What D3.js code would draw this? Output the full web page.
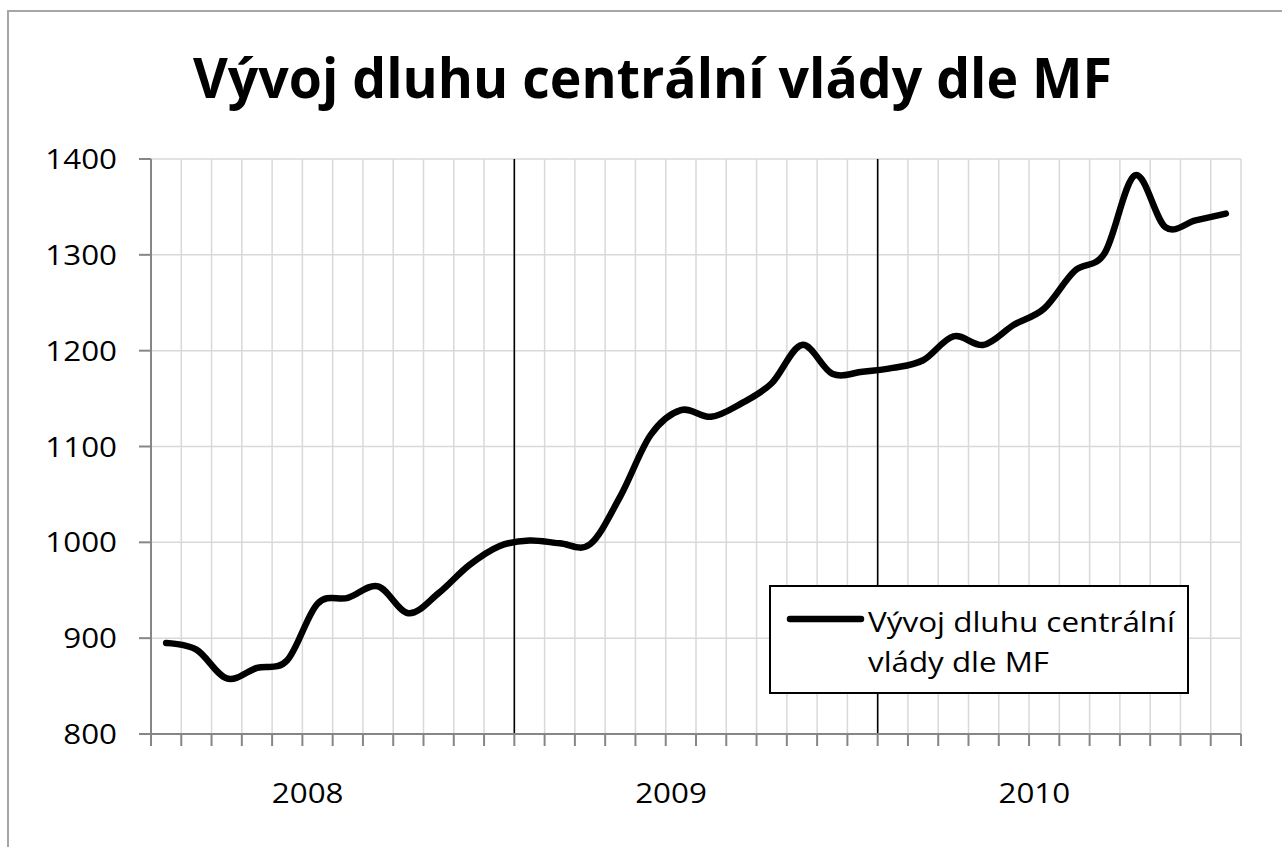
<!DOCTYPE html>
<html>
<head>
<meta charset="utf-8">
<script src="https://cdn.jsdelivr.net/npm/d3@7/dist/d3.min.js"></script>
<style>
  html, body { margin: 0; padding: 0; background: #fff; }
  svg { display: block; }
  text { font-family: "Open Sans", "DejaVu Sans", sans-serif; fill: #000; }
</style>
</head>
<body>
<svg id="chart" width="1282" height="847"></svg>
<script>
// ---- data ----
const titleText = "Vývoj dluhu centrální vlády dle MF";
const seriesName = "Vývoj dluhu centrální vlády dle MF";
const years = ["2008", "2009", "2010"];
const months = [
  "2008-01","2008-02","2008-03","2008-04","2008-05","2008-06","2008-07","2008-08","2008-09","2008-10","2008-11","2008-12",
  "2009-01","2009-02","2009-03","2009-04","2009-05","2009-06","2009-07","2009-08","2009-09","2009-10","2009-11","2009-12",
  "2010-01","2010-02","2010-03","2010-04","2010-05","2010-06","2010-07","2010-08","2010-09","2010-10","2010-11","2010-12"
];
const debt = [
  895, 888, 858, 869, 877, 936, 942, 954, 926, 947, 976, 996,
  1002, 999, 998, 1048, 1112, 1138, 1131, 1145, 1166, 1206, 1176, 1178,
  1182, 1190, 1215, 1206, 1227, 1244, 1283, 1302, 1383, 1329, 1336, 1343
];
const yTicks = [800, 900, 1000, 1100, 1200, 1300, 1400];

(function () {
// ---- layout ----
const pl = 151, pr = 1241, pt = 159, pb = 734;
const svg = d3.select("#chart");

// outer chart border
svg.append("rect")
  .attr("x", 8).attr("y", 11).attr("width", 1300).attr("height", 900)
  .attr("fill", "#fff").attr("stroke", "#a6a6a6").attr("stroke-width", 2);

const x = d3.scaleBand().domain(months).range([pl, pr]).paddingInner(0).paddingOuter(0);
const y = d3.scaleLinear().domain([800, 1400]).range([pb, pt]);
const bw = x.bandwidth();
const boundary = i => (i < months.length ? x(months[i]) : x.range()[1]);

// horizontal gridlines
svg.append("g").selectAll("line").data(yTicks.filter(t => t !== 800)).join("line")
  .attr("x1", pl).attr("x2", pr)
  .attr("y1", d => y(d)).attr("y2", d => y(d))
  .attr("stroke", "#d9d9d9").attr("stroke-width", 1.5);

// vertical gridlines at category boundaries
const bIdx = d3.range(1, months.length + 1);
svg.append("g").selectAll("line").data(bIdx).join("line")
  .attr("x1", d => boundary(d)).attr("x2", d => boundary(d))
  .attr("y1", pt).attr("y2", pb)
  .attr("stroke", "#d9d9d9").attr("stroke-width", 1.5);

// year separators
const yearStarts = years.slice(1).map(yr => months.indexOf(yr + "-01"));
svg.append("g").selectAll("line").data(yearStarts).join("line")
  .attr("x1", d => boundary(d)).attr("x2", d => boundary(d))
  .attr("y1", pt).attr("y2", pb)
  .attr("stroke", "#000").attr("stroke-width", 1.6);

// y axis
const yAxis = svg.append("g");
yAxis.append("line").attr("x1", pl).attr("x2", pl).attr("y1", pt).attr("y2", pb)
  .attr("stroke", "#868686").attr("stroke-width", 2);
yAxis.selectAll("line.tk").data(yTicks).join("line").attr("class", "tk")
  .attr("x1", pl - 12).attr("x2", pl)
  .attr("y1", d => y(d)).attr("y2", d => y(d))
  .attr("stroke", "#868686").attr("stroke-width", 2);
yAxis.selectAll("text").data(yTicks).join("text")
  .attr("transform", d => `translate(117,${y(d) + 10}) scale(1.12,1)`)
  .attr("text-anchor", "end")
  .attr("font-size", 28)
  .text(d => d);

// x axis
const xAxis = svg.append("g");
xAxis.append("line").attr("x1", pl).attr("x2", pr).attr("y1", pb).attr("y2", pb)
  .attr("stroke", "#868686").attr("stroke-width", 2);
xAxis.selectAll("line.tk").data(d3.range(0, months.length + 1)).join("line").attr("class", "tk")
  .attr("x1", d => boundary(d)).attr("x2", d => boundary(d))
  .attr("y1", pb).attr("y2", pb + 12)
  .attr("stroke", "#868686").attr("stroke-width", 2);
xAxis.selectAll("text").data(years).join("text")
  .attr("transform", yr => {
    const i0 = months.indexOf(yr + "-01"), i1 = months.indexOf(yr + "-12");
    const cx = (boundary(i0) + boundary(i1 + 1)) / 2 - 25;
    return `translate(${cx},803) scale(1.12,1)`;
  })
  .attr("text-anchor", "middle")
  .attr("font-size", 28)
  .text(d => d);

// series line
const line = d3.line()
  .x((d, i) => x(months[i]) + bw / 2)
  .y(d => y(d))
  .curve(d3.curveCardinal.tension(0));
svg.append("path").datum(debt)
  .attr("d", line)
  .attr("fill", "none").attr("stroke", "#000").attr("stroke-width", 6.5)
  .attr("stroke-linecap", "round").attr("stroke-linejoin", "round");

// title
svg.append("text")
  .attr("x", 652.5).attr("y", 98)
  .attr("text-anchor", "middle")
  .attr("font-size", 56).attr("font-weight", "bold")
  .attr("textLength", 919).attr("lengthAdjust", "spacingAndGlyphs")
  .text(titleText);

// legend
const lg = svg.append("g");
lg.append("rect").attr("x", 770).attr("y", 586).attr("width", 418).attr("height", 107)
  .attr("fill", "#fff").attr("stroke", "#000").attr("stroke-width", 2);
lg.append("line").attr("x1", 790).attr("x2", 861).attr("y1", 619).attr("y2", 619)
  .attr("stroke", "#000").attr("stroke-width", 6.5).attr("stroke-linecap", "round");
const words = seriesName.split(" ");
const line1 = words.slice(0, 3).join(" "), line2 = words.slice(3).join(" ");
lg.append("text").attr("x", 868).attr("y", 632).attr("font-size", 27)
  .attr("textLength", 307).attr("lengthAdjust", "spacingAndGlyphs").text(line1);
lg.append("text").attr("x", 868).attr("y", 672).attr("font-size", 27)
  .attr("textLength", 181).attr("lengthAdjust", "spacingAndGlyphs").text(line2);
})();
</script>
</body>
</html>
